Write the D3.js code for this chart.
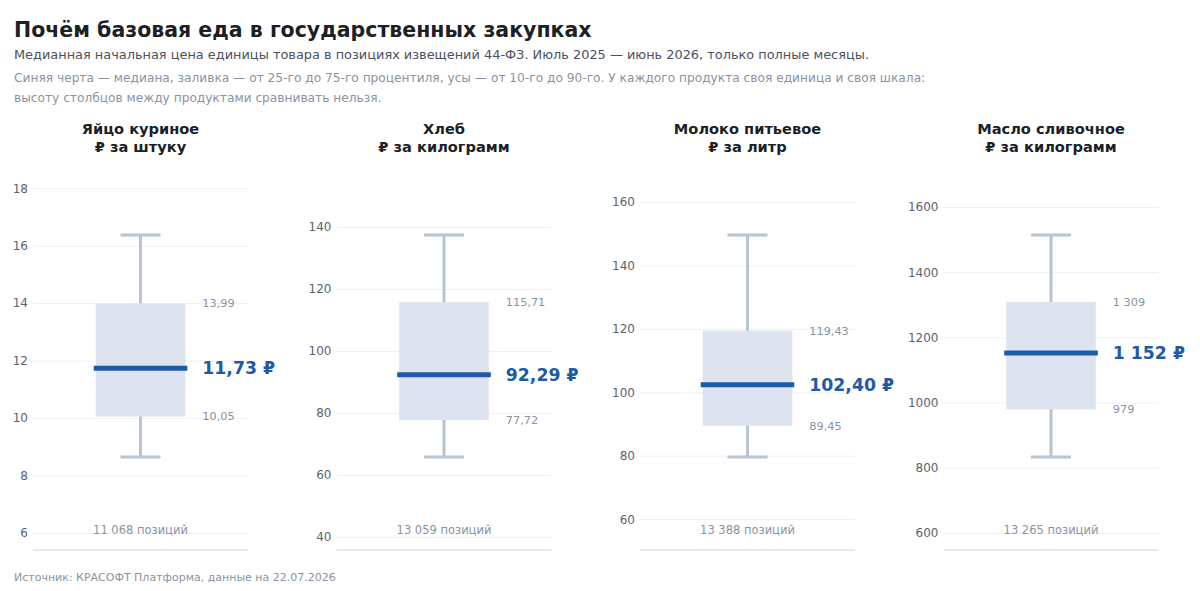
<!DOCTYPE html>
<html>
<head>
<meta charset="utf-8">
<script src="https://cdn.jsdelivr.net/npm/d3@7"></script>
<style>
 body { margin: 0; background: #fff; }
 svg text { font-family: "DejaVu Sans", sans-serif; }
</style>
</head>
<body>
<svg id="chart" width="1200" height="591"></svg>
<script>
// products and their units
var products = ['Яйцо куриное', 'Хлеб', 'Молоко питьевое', 'Масло сливочное'];
var units = ['₽ за штуку', '₽ за килограмм', '₽ за литр', '₽ за килограмм'];

// percentiles
var p10 = [8.64, 65.8, 79.6, 833];
var p25 = [10.05, 77.72, 89.45, 979];
var p50 = [11.73, 92.29, 102.40, 1152];
var p75 = [13.99, 115.71, 119.43, 1309];
var p90 = [16.37, 137.4, 149.6, 1514];

var counts = ['11 068 позиций', '13 059 позиций', '13 388 позиций', '13 265 позиций'];
var p25Labels = ['10,05', '77,72', '89,45', '979'];
var p75Labels = ['13,99', '115,71', '119,43', '1 309'];
var medianLabels = ['11,73 ₽', '92,29 ₽', '102,40 ₽', '1 152 ₽'];

var svg = d3.select('#chart');

// header
svg.append('text').attr('x', 14).attr('y', 37)
 .attr('font-size', 20.5).attr('font-weight', 'bold').attr('fill', '#1c1f26')
 .text('Почём базовая еда в государственных закупках');
svg.append('text').attr('x', 14).attr('y', 59)
 .attr('font-size', 12.9).attr('fill', '#4a5160')
 .text('Медианная начальная цена единицы товара в позициях извещений 44-ФЗ. Июль 2025 — июнь 2026, только полные месяцы.');
svg.append('text').attr('x', 14).attr('y', 82)
 .attr('font-size', 12.2).attr('fill', '#8a93a3')
 .text('Синяя черта — медиана, заливка — от 25-го до 75-го процентиля, усы — от 10-го до 90-го. У каждого продукта своя единица и своя шкала:');
svg.append('text').attr('x', 14).attr('y', 102)
 .attr('font-size', 12.2).attr('fill', '#8a93a3')
 .text('высоту столбцов между продуктами сравнивать нельзя.');

svg.append('text').attr('x', 14).attr('y', 581)
 .attr('font-size', 11).attr('fill', '#8a93a3')
 .text('Источник: КРАСОФТ Платформа, данные на 22.07.2026');

// panel geometry
var panelStep = 303.5;
var panelLeft = 33;
var panelWidth = 215;
var plotBottom = 550;
var whiskerTop = 235;
var whiskerBottom = 457;

products.forEach(function(name, i)
{
 var x0 = panelLeft + i * panelStep;
 var g = svg.append('g').attr('transform', 'translate(' + x0 + ',0)');

 // each panel has its own scale: whiskers land on the same pixels
 var span = p90[i] - p10[i];
 var pxPerUnit = (whiskerBottom - whiskerTop) / span;
 var y = d3.scaleLinear()
  .domain([p10[i] - (plotBottom - whiskerBottom) / pxPerUnit, p90[i] + 67 / pxPerUnit])
  .range([plotBottom, whiskerTop - 67]);

 var x = d3.scaleBand().domain([name]).range([0, panelWidth]).paddingInner(0).paddingOuter(0.7);
 var cx = x(name) + x.bandwidth() / 2;
 var bw = x.bandwidth();

 // titles
 g.append('text').attr('x', cx).attr('y', 134)
  .attr('text-anchor', 'middle').attr('font-size', 14.6).attr('font-weight', 'bold').attr('fill', '#1c1f26')
  .text(name);
 g.append('text').attr('x', cx).attr('y', 152)
  .attr('text-anchor', 'middle').attr('font-size', 14.6).attr('font-weight', 'bold').attr('fill', '#1c1f26')
  .text(units[i]);

 // y axis with grid lines
 var axis = g.append('g')
  .call(d3.axisLeft(y).ticks(6).tickSize(-panelWidth).tickPadding(5)
   .tickFormat(d3.format('d')));
 axis.select('.domain').remove();
 axis.selectAll('.tick line').attr('stroke', '#edf0f4').attr('stroke-width', 1);
 axis.selectAll('.tick text').attr('font-size', 12).attr('fill', '#5c6370')
  .style('font-family', '"DejaVu Sans", sans-serif');

 // baseline
 g.append('line').attr('x1', 0).attr('x2', panelWidth)
  .attr('y1', plotBottom).attr('y2', plotBottom)
  .attr('stroke', '#cfd4de').attr('stroke-width', 1.2);

 // whisker
 g.append('line').attr('x1', cx).attr('x2', cx)
  .attr('y1', y(p90[i])).attr('y2', y(p10[i]))
  .attr('stroke', '#b8c3d3').attr('stroke-width', 3);
 [p10[i], p90[i]].forEach(function(v)
 {
  g.append('line').attr('x1', cx - 20).attr('x2', cx + 20)
   .attr('y1', y(v)).attr('y2', y(v))
   .attr('stroke', '#b8c3d3').attr('stroke-width', 3);
 });

 // interquartile box
 g.append('rect').attr('x', x(name)).attr('width', bw)
  .attr('y', y(p75[i])).attr('height', y(p25[i]) - y(p75[i]))
  .attr('fill', '#dde4ef');

 // median
 g.append('line').attr('x1', x(name) - 2).attr('x2', x(name) + bw + 2)
  .attr('y1', y(p50[i])).attr('y2', y(p50[i]))
  .attr('stroke', '#1f5aa6').attr('stroke-width', 5);

 // labels
 var lx = x(name) + bw + 17;
 g.append('text').attr('x', lx).attr('y', y(p75[i])).attr('dy', '0.35em')
  .attr('font-size', 11.3).attr('fill', '#8a93a3').text(p75Labels[i]);
 g.append('text').attr('x', lx).attr('y', y(p25[i])).attr('dy', '0.35em')
  .attr('font-size', 11.3).attr('fill', '#8a93a3').text(p25Labels[i]);
 g.append('text').attr('x', lx).attr('y', y(p50[i])).attr('dy', '0.35em')
  .attr('font-size', 17.3).attr('font-weight', 'bold').attr('fill', '#1f5aa6').text(medianLabels[i]);

 g.append('text').attr('x', cx).attr('y', 534)
  .attr('text-anchor', 'middle').attr('font-size', 11.5).attr('fill', '#8a93a3')
  .text(counts[i]);
});
</script>
</body>
</html>
